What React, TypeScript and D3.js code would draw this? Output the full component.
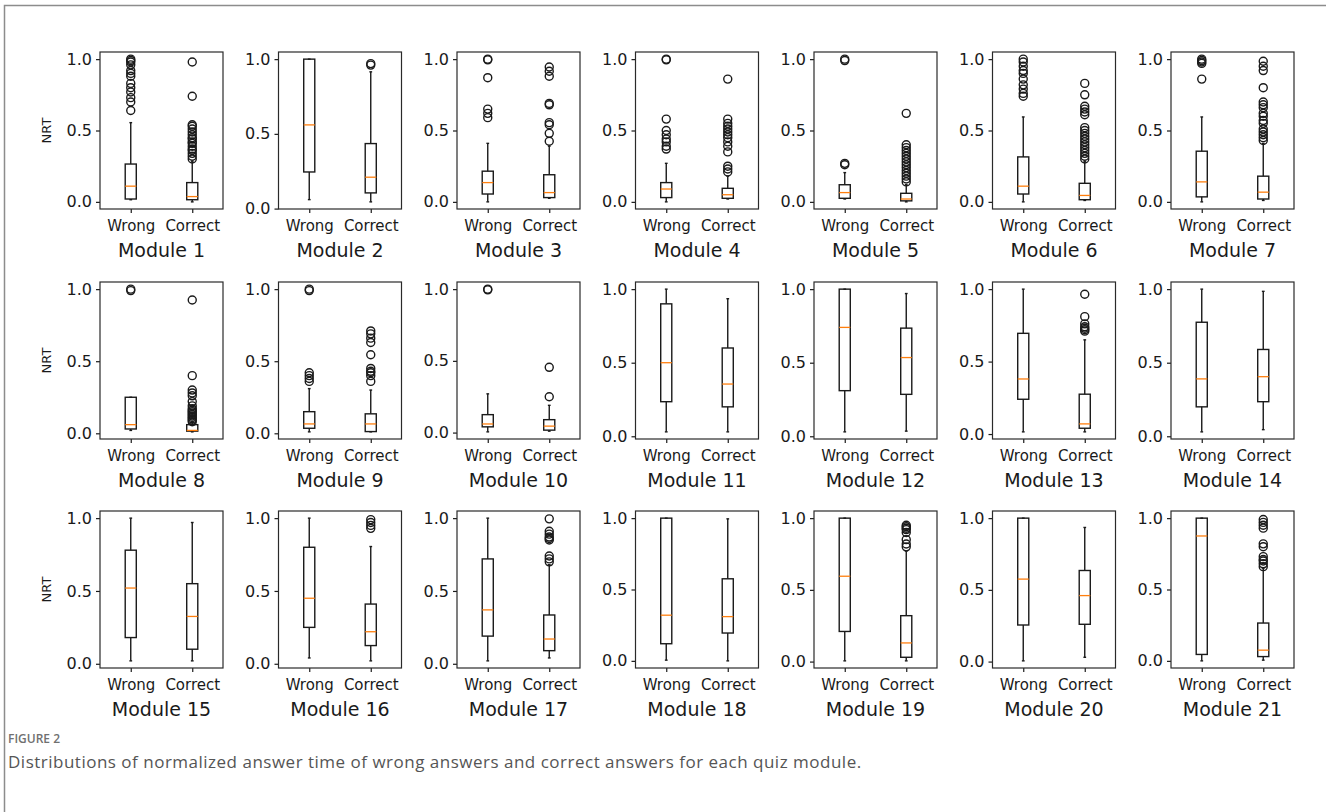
import React, { useEffect, useRef } from 'react';
import * as d3 from 'd3';

const modules = [
  'Module 1', 'Module 2', 'Module 3', 'Module 4', 'Module 5', 'Module 6', 'Module 7',
  'Module 8', 'Module 9', 'Module 10', 'Module 11', 'Module 12', 'Module 13', 'Module 14',
  'Module 15', 'Module 16', 'Module 17', 'Module 18', 'Module 19', 'Module 20', 'Module 21',
];
const groups = ['Wrong', 'Correct'];
const yTickValues = [0, 0.5, 1.0];

// [whisker low, q1, median, q3, whisker high] per module
const wrongStats = [
  [0.015, 0.02, 0.11, 0.265, 0.555],
  [0.06, 0.245, 0.56, 1.0, 1.0],
  [0.0, 0.055, 0.135, 0.215, 0.41],
  [0.0, 0.03, 0.09, 0.135, 0.27],
  [0.02, 0.025, 0.065, 0.12, 0.205],
  [0.0, 0.055, 0.11, 0.315, 0.595],
  [0.0, 0.035, 0.14, 0.355, 0.595],
  [0.02, 0.03, 0.06, 0.25, 0.25],
  [0.01, 0.035, 0.065, 0.15, 0.31],
  [0.005, 0.04, 0.06, 0.125, 0.27],
  [0.03, 0.235, 0.5, 0.9, 1.0],
  [0.03, 0.31, 0.74, 1.0, 1.0],
  [0.015, 0.24, 0.38, 0.695, 1.0],
  [0.03, 0.2, 0.39, 0.775, 1.0],
  [0.02, 0.18, 0.52, 0.78, 1.0],
  [0.04, 0.25, 0.45, 0.8, 1.0],
  [0.02, 0.19, 0.37, 0.72, 1.0],
  [0.005, 0.12, 0.32, 1.0, 1.0],
  [0.005, 0.21, 0.595, 1.0, 1.0],
  [0.005, 0.255, 0.575, 1.0, 1.0],
  [0.0, 0.045, 0.875, 1.0, 1.0],
];

const correctStats = [
  [0.0, 0.015, 0.037, 0.135, 0.285],
  [0.045, 0.105, 0.21, 0.435, 0.915],
  [0.025, 0.03, 0.065, 0.19, 0.39],
  [0.02, 0.025, 0.05, 0.095, 0.18],
  [0.0, 0.007, 0.02, 0.06, 0.12],
  [0.01, 0.015, 0.045, 0.13, 0.285],
  [0.01, 0.02, 0.068, 0.18, 0.41],
  [0.01, 0.015, 0.02, 0.06, 0.075],
  [0.01, 0.012, 0.065, 0.135, 0.3],
  [0.01, 0.017, 0.045, 0.09, 0.19],
  [0.03, 0.2, 0.355, 0.6, 0.935],
  [0.035, 0.285, 0.535, 0.735, 0.97],
  [0.015, 0.04, 0.07, 0.275, 0.65],
  [0.045, 0.235, 0.405, 0.59, 0.985],
  [0.02, 0.1, 0.325, 0.55, 0.97],
  [0.02, 0.125, 0.22, 0.41, 0.805],
  [0.04, 0.09, 0.17, 0.335, 0.68],
  [0.0, 0.195, 0.31, 0.575, 0.995],
  [0.005, 0.03, 0.13, 0.32, 0.77],
  [0.03, 0.26, 0.46, 0.635, 0.935],
  [0.005, 0.03, 0.075, 0.265, 0.65],
];

const wrongFliers = [
  [0.64, 0.7, 0.73, 0.77, 0.8, 0.83, 0.88, 0.9, 0.92, 0.96, 0.98, 0.99, 1.0],
  [],
  [0.59, 0.62, 0.65, 0.87, 0.995, 1.0],
  [0.37, 0.39, 0.42, 0.44, 0.47, 0.5, 0.58, 0.995, 1.0],
  [0.26, 0.27, 0.99, 1.0],
  [0.74, 0.76, 0.79, 0.82, 0.86, 0.9, 0.92, 0.95, 0.98, 1.0],
  [0.86, 0.97, 0.98, 0.99, 1.0],
  [0.99, 1.0],
  [0.36, 0.38, 0.4, 0.42, 0.99, 1.0],
  [0.995, 1.0],
  [], [], [], [], [], [], [], [], [], [], [],
];

const correctFliers = [
  [0.3, 0.32, 0.34, 0.36, 0.37, 0.39, 0.41, 0.42, 0.44, 0.45, 0.47, 0.49, 0.51, 0.53, 0.54, 0.74, 0.98],
  [0.96, 0.97],
  [0.425, 0.48, 0.54, 0.555, 0.68, 0.69, 0.88, 0.915, 0.945],
  [0.21, 0.23, 0.25, 0.35, 0.39, 0.42, 0.45, 0.47, 0.49, 0.51, 0.53, 0.55, 0.58, 0.86],
  [0.14, 0.16, 0.18, 0.2, 0.22, 0.24, 0.26, 0.28, 0.3, 0.32, 0.34, 0.36, 0.38, 0.4, 0.62],
  [0.3, 0.32, 0.34, 0.36, 0.38, 0.4, 0.42, 0.44, 0.46, 0.48, 0.5, 0.52, 0.61, 0.63, 0.65, 0.67, 0.75, 0.83],
  [0.43, 0.45, 0.47, 0.49, 0.51, 0.55, 0.57, 0.6, 0.62, 0.66, 0.68, 0.7, 0.8, 0.92, 0.95, 0.985],
  [0.08, 0.09, 0.1, 0.11, 0.12, 0.13, 0.14, 0.15, 0.16, 0.17, 0.19, 0.22, 0.26, 0.28, 0.3, 0.4, 0.925],
  [0.36, 0.4, 0.42, 0.43, 0.45, 0.545, 0.63, 0.66, 0.69, 0.71],
  [0.25, 0.455],
  [],
  [],
  [0.71, 0.72, 0.73, 0.74, 0.76, 0.81, 0.965],
  [],
  [],
  [0.93, 0.95, 0.97, 0.99],
  [0.7, 0.72, 0.74, 0.85, 0.86, 0.87, 0.89, 0.91, 0.995],
  [],
  [0.8, 0.82, 0.85, 0.9, 0.92, 0.93, 0.94, 0.95],
  [],
  [0.66, 0.68, 0.7, 0.71, 0.73, 0.8, 0.82, 0.93, 0.95, 0.97, 0.99],
];

const figureLabel = 'FIGURE 2';
const captionText = 'Distributions of normalized answer time of wrong answers and correct answers for each quiz module.';

const W = 1326;
const H = 812;

export default function App() {
  const ref = useRef<SVGSVGElement>(null);

  useEffect(() => {
    const svg = d3.select(ref.current);
    svg.selectAll('*').remove();

    svg.append('rect').attr('width', W).attr('height', H).attr('fill', '#fff');

    // page frame (only top and left edges visible)
    svg.append('rect')
      .attr('x', 4.5).attr('y', 5.5)
      .attr('width', W + 50).attr('height', H + 50)
      .attr('fill', 'none')
      .attr('stroke', '#8c8c8c')
      .attr('stroke-width', 1.5);

    const panelW = 123;
    const panelH = 157;
    const left0 = 100;
    const colStep = 178.5;
    const rowTops = [52, 282, 511];
    const font = '"DejaVu Sans", sans-serif';
    const ink = '#1a1a1a';

    modules.forEach((name, i) => {
      const r = Math.floor(i / 7);
      const c = i % 7;
      const g = svg.append('g')
        .attr('transform', `translate(${left0 + c * colStep},${rowTops[r]})`);

      const series = [
        { stats: wrongStats[i], fliers: wrongFliers[i] },
        { stats: correctStats[i], fliers: correctFliers[i] },
      ];
      const all = series.flatMap(s => [s.stats[0], s.stats[4], ...s.fliers]);
      const lo = d3.min(all) as number;
      const hi = d3.max(all) as number;
      const pad = (hi - lo) * 0.05;

      const y = d3.scaleLinear().domain([lo - pad, hi + pad]).range([panelH, 0]);
      const x = d3.scaleLinear().domain([0.5, 2.5]).range([0, panelW]);
      const ticks = yTickValues.filter(t => t >= lo - pad - 0.004 && t <= hi + pad + 0.004);

      const yAxis = g.append('g')
        .call(d3.axisLeft(y).tickValues(ticks).tickFormat(d3.format('.1f')).tickSize(4).tickPadding(4));
      const xAxis = g.append('g')
        .attr('transform', `translate(0,${panelH})`)
        .call(d3.axisBottom(x).tickValues([1, 2]).tickFormat((d: any) => groups[d - 1]).tickSize(4).tickPadding(7.5));

      [yAxis, xAxis].forEach(ax => {
        ax.select('.domain').remove();
        ax.selectAll('line').attr('stroke', ink).attr('stroke-width', 1.2);
        ax.selectAll('text')
          .attr('fill', ink)
          .style('font-family', font)
          .style('font-size', '15px');
      });
      yAxis.selectAll('text').style('font-size', '16px');

      const bw = x(1.09) - x(1);
      const cw = bw / 2;

      series.forEach((s, k) => {
        const cx = x(k + 1);
        const [wLo, q1, med, q3, wHi] = s.stats;
        const sg = g.append('g');
        // whiskers
        sg.append('line').attr('x1', cx).attr('x2', cx).attr('y1', y(q3)).attr('y2', y(wHi))
          .attr('stroke', ink).attr('stroke-width', 1.4);
        sg.append('line').attr('x1', cx).attr('x2', cx).attr('y1', y(q1)).attr('y2', y(wLo))
          .attr('stroke', ink).attr('stroke-width', 1.4);
        // caps
        [wLo, wHi].forEach(v => {
          sg.append('line').attr('x1', cx - cw / 2).attr('x2', cx + cw / 2).attr('y1', y(v)).attr('y2', y(v))
            .attr('stroke', ink).attr('stroke-width', 1.4);
        });
        // box
        sg.append('rect')
          .attr('x', cx - bw).attr('width', bw * 2)
          .attr('y', y(q3)).attr('height', Math.max(0, y(q1) - y(q3)))
          .attr('fill', 'none').attr('stroke', ink).attr('stroke-width', 1.4);
        // median
        sg.append('line').attr('x1', cx - bw).attr('x2', cx + bw).attr('y1', y(med)).attr('y2', y(med))
          .attr('stroke', '#ff7f0e').attr('stroke-width', 1.3);
        // fliers
        sg.selectAll('circle').data(s.fliers).join('circle')
          .attr('cx', cx).attr('cy', d => y(d)).attr('r', 4)
          .attr('fill', 'none').attr('stroke', ink).attr('stroke-width', 1.4);
      });

      g.append('rect')
        .attr('x', 0).attr('y', 0).attr('width', panelW).attr('height', panelH)
        .attr('fill', 'none').attr('stroke', '#2a2a2a').attr('stroke-width', 1.2);

      g.append('text')
        .attr('x', panelW / 2).attr('y', panelH + 48)
        .attr('text-anchor', 'middle')
        .attr('fill', ink)
        .style('font-family', font)
        .style('font-size', '19px')
        .text(name);

      if (c === 0) {
        g.append('text')
          .attr('transform', `translate(-54,${panelH / 2}) rotate(-90)`)
          .attr('text-anchor', 'middle')
          .attr('dy', '0.35em')
          .attr('fill', ink)
          .style('font-family', font)
          .style('font-size', '13px')
          .text('NRT');
      }
    });

    svg.append('text')
      .attr('x', 8).attr('y', 743)
      .attr('fill', '#707070')
      .style('font-family', '"Open Sans", sans-serif')
      .style('font-size', '12px')
      .style('font-weight', 600)
      .text(figureLabel);

    svg.append('text')
      .attr('x', 8).attr('y', 768)
      .attr('fill', '#555')
      .style('font-family', '"Open Sans", sans-serif')
      .style('font-size', '17px')
      .style('letter-spacing', '0.5px')
      .text(captionText);
  }, []);

  return (
    <svg ref={ref} width={W} height={H} style={{ position: 'absolute', left: 0, top: 0, display: 'block' }} />
  );
}
